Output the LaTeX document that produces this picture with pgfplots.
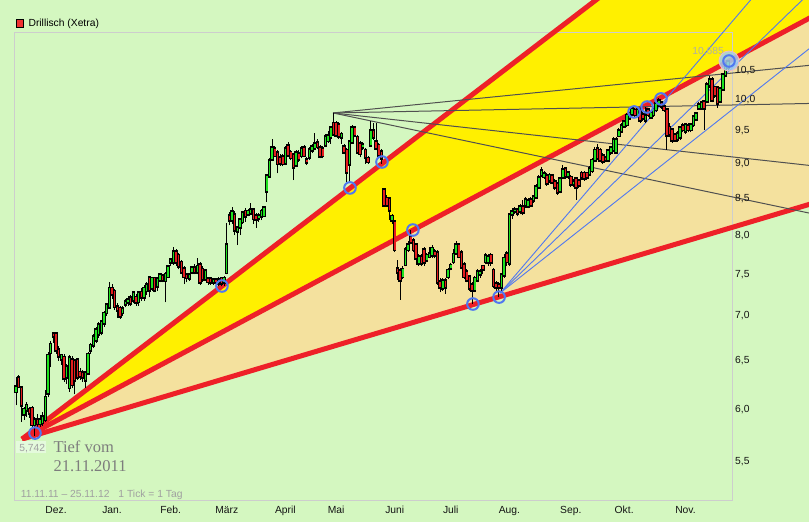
\documentclass[border=0pt]{standalone}
\usepackage{pgfplots}
\pgfplotsset{compat=1.18}
\usepackage{pgfplotstable}
\usepackage{fontspec}
\setmainfont{Liberation Sans}
\newfontfamily\serifont{Liberation Serif}

\definecolor{bggreen}{RGB}{212,247,192}
\definecolor{fanyellow}{RGB}{255,240,0}
\definecolor{fanbeige}{RGB}{244,225,158}
\definecolor{fanred}{RGB}{238,32,40}
\definecolor{candlegreen}{RGB}{30,225,30}
\definecolor{candlered}{RGB}{228,30,30}
\definecolor{circleblue}{RGB}{80,120,240}
\definecolor{halo}{RGB}{160,205,240}
\definecolor{halorim}{RGB}{240,185,200}
\definecolor{fangray}{RGB}{80,80,80}
\definecolor{framegray}{RGB}{205,205,205}
\definecolor{txtgray}{RGB}{160,160,160}
\definecolor{hightxt}{RGB}{178,176,160}
\definecolor{serifgray}{RGB}{125,125,125}
\definecolor{labelbox}{RGB}{228,250,220}
\definecolor{ticktxt}{RGB}{20,20,20}
\definecolor{legendred}{RGB}{240,50,50}

% daily candles: index (trading day), open, high, low, close
\pgfplotstableread{
i o h l c
-1 6.18 6.33 6.04 6.23
0 6.32 6.35 6.22 6.23
1 6.22 6.24 5.88 6.04
2 5.95 6.02 5.90 6.00
3 5.99 6.07 5.93 6.04
4 6.00 6.02 5.92 5.96
5 6.01 6.03 5.82 5.85
6 5.85 5.93 5.742 5.90
7 5.90 5.95 5.82 5.86
8 5.86 5.94 5.83 5.90
9 5.87 5.97 5.84 5.93
10 5.90 6.20 5.88 6.12
11 6.16 6.60 6.12 6.56
12 6.59 6.72 6.43 6.68
13 6.80 6.82 6.70 6.77
14 6.80 6.82 6.58 6.62
15 6.62 6.66 6.50 6.55
16 6.52 6.58 6.46 6.56
17 6.54 6.57 6.28 6.32
18 6.33 6.47 6.26 6.44
19 6.22 6.56 6.18 6.53
20 6.51 6.55 6.22 6.25
21 6.50 6.52 6.15 6.30
22 6.51 6.53 6.30 6.33
23 6.38 6.42 6.30 6.34
24 6.37 6.40 6.28 6.33
25 6.30 6.39 6.22 6.37
26 6.37 6.60 6.35 6.57
27 6.62 6.70 6.58 6.67
28 6.67 6.79 6.64 6.76
29 6.73 6.87 6.70 6.84
30 6.79 6.93 6.75 6.90
31 6.82 6.96 6.78 6.93
32 6.92 7.06 6.88 7.03
33 7.04 7.15 7.00 7.13
34 7.10 7.41 7.08 7.33
35 7.33 7.38 7.20 7.26
36 7.29 7.32 7.07 7.11
37 7.11 7.15 6.98 7.07
38 7.09 7.12 6.97 7.00
39 7.04 7.12 7.00 7.08
40 7.14 7.20 7.10 7.17
41 7.16 7.23 7.12 7.19
42 7.21 7.25 7.12 7.15
43 7.19 7.30 7.15 7.27
44 7.22 7.26 7.12 7.16
45 7.17 7.30 7.12 7.27
46 7.28 7.33 7.18 7.22
47 7.22 7.37 7.18 7.33
48 7.30 7.40 7.25 7.37
49 7.46 7.48 7.22 7.31
50 7.33 7.47 7.30 7.45
51 7.45 7.47 7.28 7.31
52 7.35 7.46 7.30 7.44
53 7.43 7.52 7.40 7.49
54 7.48 7.50 7.40 7.43
55 7.42 7.53 7.16 7.50
56 7.47 7.62 7.45 7.59
57 7.65 7.70 7.60 7.68
58 7.65 7.84 7.62 7.78
59 7.78 7.82 7.60 7.65
60 7.74 7.77 7.56 7.60
61 7.65 7.68 7.50 7.53
62 7.57 7.60 7.38 7.47
63 7.49 7.52 7.40 7.46
64 7.45 7.52 7.42 7.49
65 7.53 7.60 7.50 7.58
66 7.58 7.63 7.50 7.53
67 7.53 7.70 7.50 7.60
68 7.62 7.66 7.37 7.40
69 7.56 7.60 7.40 7.44
70 7.44 7.57 7.42 7.54
71 7.44 7.47 7.37 7.41
72 7.44 7.46 7.37 7.40
73 7.40 7.46 7.37 7.43
74 7.43 7.45 7.36 7.40
75 7.39 7.47 7.35 7.43
76 7.45 7.47 7.35 7.39
77 7.40 7.48 7.36 7.45
78 7.52 8.16 7.50 7.87
79 8.26 8.31 8.13 8.20
80 8.20 8.38 8.15 8.31
81 8.27 8.33 8.00 8.07
82 8.05 8.12 7.87 8.10
83 8.11 8.23 8.00 8.20
84 8.18 8.32 8.15 8.30
85 8.32 8.36 8.18 8.25
86 8.28 8.35 8.25 8.32
87 8.30 8.44 8.27 8.34
88 8.34 8.37 8.15 8.22
89 8.26 8.30 8.10 8.21
90 8.23 8.30 8.18 8.26
91 8.25 8.35 8.20 8.32
92 8.26 8.40 8.24 8.37
93 8.60 8.84 8.45 8.82
94 8.82 9.08 8.80 9.04
95 9.07 9.38 9.04 9.24
96 9.22 9.27 9.10 9.12
97 9.16 9.20 8.86 9.00
98 9.09 9.14 8.97 9.01
99 9.10 9.15 8.96 9.00
100 9.01 9.27 8.98 9.23
101 9.27 9.33 9.10 9.13
102 9.17 9.20 9.05 9.09
103 9.13 9.16 8.76 8.95
104 8.98 9.20 8.95 9.16
105 9.15 9.20 9.03 9.07
106 9.12 9.27 9.08 9.22
107 9.24 9.28 9.10 9.12
108 9.06 9.10 8.98 9.02
109 9.10 9.25 9.06 9.21
110 9.20 9.30 9.16 9.25
111 9.24 9.47 9.20 9.30
112 9.32 9.38 9.22 9.26
113 9.24 9.28 9.08 9.11
114 9.23 9.27 9.08 9.12
115 9.28 9.45 9.25 9.41
116 9.35 9.50 9.32 9.42
117 9.40 9.58 9.30 9.55
118 9.62 9.78 9.42 9.45
119 9.62 9.66 9.40 9.44
120 9.60 9.64 9.38 9.42
121 9.40 9.48 9.30 9.45
122 9.25 9.30 9.14 9.18
123 9.20 9.24 8.74 8.88
124 8.99 9.36 8.74 9.33
125 9.33 9.60 9.30 9.55
126 9.55 9.58 9.40 9.44
127 9.40 9.44 9.15 9.18
128 9.30 9.35 9.10 9.15
129 9.25 9.33 9.20 9.29
130 9.20 9.24 9.00 9.10
131 9.08 9.12 9.00 9.03
132 9.28 9.66 9.25 9.50
133 9.50 9.62 9.36 9.40
134 9.33 9.62 9.20 9.24
135 9.28 9.32 9.08 9.13
136 9.18 9.22 9.00 9.08
137 8.62 8.65 8.38 8.41
138 8.50 8.55 8.38 8.41
139 8.49 8.52 8.20 8.34
140 8.20 8.28 8.15 8.25
141 8.18 8.20 7.78 7.81
142 7.57 7.68 7.43 7.53
143 7.54 7.58 7.19 7.43
144 7.47 7.60 7.44 7.56
145 7.62 7.84 7.60 7.81
146 7.81 7.92 7.78 7.87
147 7.98 8.07 7.88 7.91
148 7.93 7.96 7.78 7.81
149 7.87 7.90 7.62 7.70
150 7.64 7.75 7.60 7.72
151 7.72 7.76 7.60 7.64
152 7.81 7.84 7.60 7.65
153 7.68 7.77 7.65 7.74
154 7.72 7.84 7.70 7.76
155 7.74 7.87 7.70 7.83
156 7.78 7.82 7.70 7.74
157 7.77 7.80 7.37 7.40
158 7.41 7.45 7.28 7.34
159 7.33 7.45 7.30 7.42
160 7.42 7.45 7.26 7.34
161 7.47 7.58 7.44 7.55
162 7.58 7.64 7.55 7.61
163 7.66 7.82 7.63 7.75
164 7.77 7.92 7.75 7.87
165 7.87 7.90 7.70 7.72
166 7.77 7.80 7.56 7.59
167 7.62 7.65 7.44 7.47
168 7.53 7.56 7.40 7.43
169 7.47 7.49 7.30 7.33
170 7.37 7.40 7.14 7.31
171 7.31 7.48 7.28 7.45
172 7.43 7.56 7.40 7.53
173 7.50 7.57 7.46 7.53
174 7.60 7.62 7.50 7.56
175 7.66 7.77 7.63 7.73
176 7.65 7.76 7.60 7.72
177 7.74 7.77 7.60 7.65
178 7.55 7.58 7.33 7.36
179 7.38 7.42 7.28 7.34
180 7.37 7.40 7.22 7.34
181 7.34 7.52 7.30 7.49
182 7.49 7.75 7.46 7.70
183 7.76 7.79 7.60 7.66
184 7.64 8.30 7.60 8.27
185 8.28 8.36 8.22 8.31
186 8.32 8.38 8.28 8.34
187 8.34 8.37 8.25 8.30
188 8.32 8.42 8.28 8.38
189 8.38 8.48 8.27 8.31
190 8.41 8.52 8.37 8.48
191 8.39 8.50 8.36 8.47
192 8.48 8.52 8.38 8.41
193 8.48 8.55 8.44 8.52
194 8.52 8.70 8.50 8.66
195 8.66 8.83 8.63 8.79
196 8.83 8.95 8.80 8.90
197 8.81 8.90 8.78 8.85
198 8.82 8.86 8.68 8.72
199 8.76 8.87 8.72 8.83
200 8.82 8.85 8.70 8.73
201 8.74 8.78 8.62 8.66
202 8.71 8.74 8.55 8.59
203 8.60 8.80 8.57 8.78
204 8.80 8.98 8.77 8.91
205 8.92 8.95 8.78 8.82
206 8.82 8.90 8.78 8.87
207 8.80 8.83 8.66 8.70
208 8.70 8.78 8.66 8.74
209 8.78 8.80 8.48 8.66
210 8.75 8.78 8.65 8.69
211 8.86 8.90 8.76 8.80
212 8.86 8.89 8.75 8.79
213 8.86 8.88 8.76 8.80
214 8.85 8.96 8.82 8.93
215 8.90 9.08 8.87 9.05
216 9.05 9.25 9.02 9.20
217 9.23 9.30 9.05 9.09
218 9.20 9.24 9.02 9.05
219 9.12 9.16 9.00 9.04
220 9.09 9.12 9.02 9.06
221 9.05 9.22 9.02 9.19
222 9.17 9.27 9.13 9.24
223 9.21 9.40 9.18 9.36
224 9.18 9.40 9.15 9.36
225 9.43 9.54 9.40 9.50
226 9.50 9.62 9.47 9.58
227 9.58 9.68 9.55 9.64
228 9.60 9.78 9.57 9.75
229 9.71 9.80 9.68 9.78
230 9.77 9.90 9.74 9.86
231 9.83 9.87 9.72 9.76
232 9.76 9.87 9.72 9.84
233 9.84 9.88 9.63 9.67
234 9.76 9.80 9.66 9.70
235 9.67 9.89 9.63 9.74
236 9.84 9.87 9.72 9.76
237 9.72 9.82 9.69 9.78
238 9.76 9.90 9.73 9.86
239 9.84 9.97 9.80 9.94
240 9.92 10.03 9.88 9.98
241 9.95 9.99 9.86 9.90
242 9.89 9.93 9.80 9.84
243 9.84 9.87 9.21 9.44
244 9.56 9.62 9.40 9.45
245 9.52 9.55 9.32 9.36
246 9.44 9.47 9.33 9.36
247 9.37 9.50 9.33 9.46
248 9.40 9.58 9.36 9.55
249 9.58 9.62 9.48 9.52
250 9.50 9.63 9.46 9.60
251 9.58 9.62 9.48 9.52
252 9.52 9.63 9.48 9.60
253 9.60 9.75 9.57 9.72
254 9.69 9.80 9.66 9.77
255 9.87 9.96 9.84 9.92
256 9.87 9.98 9.84 9.95
257 9.97 10.00 9.52 9.87
258 9.98 10.30 9.95 10.25
259 10.25 10.40 10.20 10.34
260 10.34 10.38 9.96 10.00
261 10.21 10.24 10.04 10.08
262 10.20 10.22 9.87 9.95
263 9.98 10.22 9.95 10.19
264 10.18 10.45 10.15 10.42
265 10.42 10.64 10.38 10.60
266 10.55 10.685 10.50 10.65
}\ohlc

% build segment lists (low-high wicks, open-close bodies)
\pgfplotstablegetrowsof{\ohlc}
\pgfmathtruncatemacro\lastrow{\pgfplotsretval-1}
\gdef\wicks{}\gdef\bodies{}\gdef\upb{}\gdef\dnb{}
\foreach \r in {0,...,\lastrow}{%
  \pgfplotstablegetelem{\r}{i}\of\ohlc\let\cI\pgfplotsretval
  \pgfplotstablegetelem{\r}{o}\of\ohlc\let\cO\pgfplotsretval
  \pgfplotstablegetelem{\r}{h}\of\ohlc\let\cH\pgfplotsretval
  \pgfplotstablegetelem{\r}{l}\of\ohlc\let\cL\pgfplotsretval
  \pgfplotstablegetelem{\r}{c}\of\ohlc\let\cC\pgfplotsretval
  \xdef\wicks{\wicks(\cI,\cL)(\cI,\cH)(\cI,nan)}%
  \xdef\bodies{\bodies(\cI,\cO)(\cI,\cC)(\cI,nan)}%
  \ifdim\cC pt<\cO pt
    \xdef\dnb{\dnb(\cI,\cO)(\cI,\cC)(\cI,nan)}%
  \else
    \xdef\upb{\upb(\cI,\cO)(\cI,\cC)(\cI,nan)}%
  \fi
}

\begin{document}
\begin{tikzpicture}
\begin{axis}[
  scale only axis, width=809pt, height=522pt,
  xmin=-7.01, xmax=296.3,
  ymode=log, ymin=4.982, ymax=11.795,
  axis on top,
  axis line style={draw=none},
  tick style={draw=none}, major tick length=0pt, minor tick length=0pt,
  axis background/.style={fill=bggreen},
  unbounded coords=jump,
  xtick={14,35,57,78,100,119,141,162,184,207,227,250},
  xticklabels={Dez.,Jan.,Feb.,März,April,Mai,Juni,Juli,Aug.,Sep.,Okt.,Nov.},
  xticklabel style={anchor=base, yshift=8pt, inner sep=0pt, font=\fontsize{10.3}{12}\selectfont, text=ticktxt},
  ytick={5.5,6,6.5,7,7.5,8,8.5,9,9.5,10,10.5},
  yticklabels={{5,5},{6,0},{6,5},{7,0},{7,5},{8,0},{8,5},{9,0},{9,5},{10,0},{10,5}},
  yticklabel style={anchor=west, xshift=735pt, inner sep=0pt, font=\fontsize{10.3}{12}\selectfont, text=ticktxt},
  legend style={at={(rel axis cs:0.0195,0.955)}, anchor=west, draw=none, fill=none, inner sep=0pt,
    font=\fontsize{10.3}{12}\selectfont, nodes={inner sep=0pt}, column sep=4.5pt},
  legend cell align=left,
]
\addlegendimage{legend image code/.code={\draw[fill=legendred, draw=black, line width=0.9pt] (0pt,-3.6pt) rectangle (7.2pt,3.6pt);}}
\addlegendentry{Drillisch (Xetra)}

% fan areas from the November low
\addplot[forget plot, fill=fanyellow, draw=none] coordinates {(1.24,5.713) (226.2,12.19) (303.8,12.19) (303.8,11.646)};
\addplot[forget plot, fill=fanbeige, draw=none] coordinates {(1.24,5.713) (303.8,11.646) (303.8,8.499)};

% frame
\draw[framegray, line width=1pt] (axis cs:-1.39,5.166) rectangle (axis cs:267.45,11.17);

% red fan lines
\addplot[forget plot, fanred, line width=5pt, mark=none] coordinates {(1.24,5.713) (226.2,12.19)};
\addplot[forget plot, fanred, line width=5pt, mark=none] coordinates {(1.24,5.713) (303.8,11.646)};
\addplot[forget plot, fanred, line width=5pt, mark=none] coordinates {(1.24,5.713) (303.8,8.499)};

% gray fan from the May high
\addplot[forget plot, fangray, line width=1pt, mark=none] coordinates {(117.85,9.788) (303.8,10.623)};
\addplot[forget plot, fangray, line width=1pt, mark=none] coordinates {(117.85,9.788) (303.8,9.949)};
\addplot[forget plot, fangray, line width=1pt, mark=none] coordinates {(117.85,9.788) (303.8,8.944)};
\addplot[forget plot, fangray, line width=1pt, mark=none] coordinates {(117.85,9.788) (303.8,8.240)};

% blue fan from the July low
\addplot[forget plot, circleblue, line width=0.9pt, mark=none] coordinates {(180.5,7.271) (280.8,12.19)};
\addplot[forget plot, circleblue, line width=0.9pt, mark=none] coordinates {(180.5,7.271) (301.5,12.19)};
\addplot[forget plot, circleblue, line width=0.9pt, mark=none] coordinates {(180.5,7.271) (303.8,11.168)};

% candles
\begingroup\edef\x{\endgroup\noexpand\addplot[forget plot, black, line width=1pt, mark=none] coordinates {\wicks};}\x
\begingroup\edef\x{\endgroup\noexpand\addplot[forget plot, black, line width=3.4pt, line cap=rect, mark=none] coordinates {\bodies};}\x
\begingroup\edef\x{\endgroup\noexpand\addplot[forget plot, candlegreen, line width=1.5pt, mark=none] coordinates {\upb};}\x
\begingroup\edef\x{\endgroup\noexpand\addplot[forget plot, candlered, line width=1.5pt, mark=none] coordinates {\dnb};}\x

% highlight of the last high and touch points
\addplot[forget plot, only marks, mark=*, mark size=10pt, mark options={fill=halo, draw=halorim, line width=0.8pt, fill opacity=0.85}] coordinates {(266.3,10.665)};
\addplot[forget plot, only marks, mark=o, mark size=5.8pt, mark options={draw=circleblue, line width=2pt}] coordinates {
(6.1,5.770) (76.2,7.356) (124.2,8.648) (136.2,9.027) (147.8,8.068) (170.3,7.140) (180.1,7.223)
(230.7,9.804) (235.6,9.885) (240.8,10.017) (266.3,10.665)};

% annotations
\fill[labelbox] (rel axis cs:0.0198,0.1552) rectangle (rel axis cs:0.0569,0.1322);
\node[anchor=base east, inner sep=0pt, font=\fontsize{10.3}{12}\selectfont, text=txtgray] at (rel axis cs:0.0560,0.1345) {5,742};
\node[anchor=base east, inner sep=0pt, font=\fontsize{10.3}{12}\selectfont, text=hightxt] at (rel axis cs:0.8950,0.8946) {10,685};
\node[anchor=base west, inner sep=0pt, font=\serifont\fontsize{16.5}{18}\selectfont, text=serifgray] at (rel axis cs:0.0659,0.1322) {Tief vom};
\node[anchor=base west, inner sep=0pt, font=\serifont\fontsize{16.5}{18}\selectfont, text=serifgray] at (rel axis cs:0.0659,0.0958) {21.11.2011};
\node[anchor=base west, inner sep=0pt, font=\fontsize{10.3}{12}\selectfont, text=txtgray] at (rel axis cs:0.0256,0.0460) {11.11.11 -- 25.11.12\hspace{9pt}1 Tick = 1 Tag};
\end{axis}
\end{tikzpicture}
\end{document}
